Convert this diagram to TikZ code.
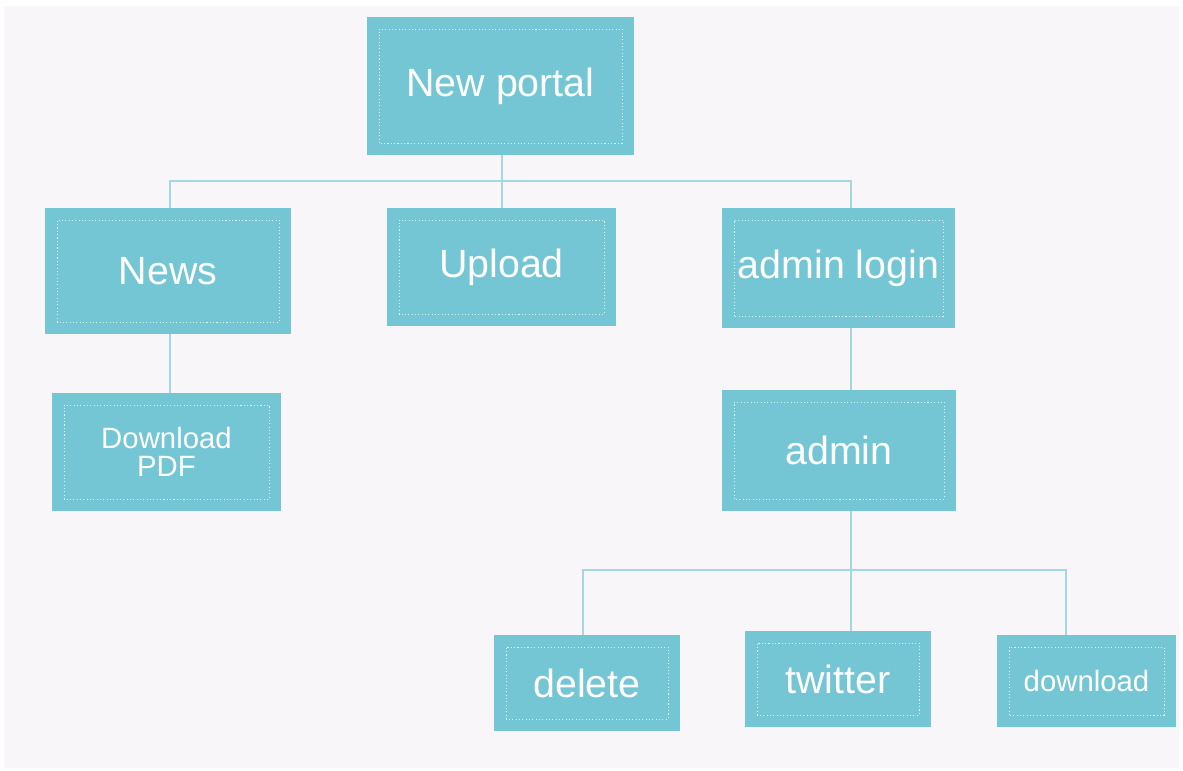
\documentclass[tikz,border=0pt]{standalone}
\usepackage{fontspec}
\setmainfont{Liberation Sans}
\usetikzlibrary{calc}
\definecolor{sky}{HTML}{74C6D4}
\definecolor{wire}{HTML}{A3D8E1}
\definecolor{paper}{HTML}{F8F6F8}

\begin{document}
\begin{tikzpicture}[font=\fontsize{22.4}{24}\selectfont]
\tikzset{
  tile/.style={fill=sky,text=white,inner sep=0pt,align=center,
    path picture={\draw[white!75!sky,line width=.55pt,dash pattern=on .6pt off 1.3pt]
      ($(path picture bounding box.south west)+(.24,.24)$) rectangle
      ($(path picture bounding box.north east)-(.24,.24)$);}},
  small/.style={font=\fontsize{16.7}{15.9}\selectfont},
  link/.style={draw=wire,line width=.7pt}
}
\fill[white] (0,0) rectangle (23.66,15.42);
\fill[paper] (.08,.06) rectangle (23.6,15.3);

% top level
\node[tile,minimum width=5.34cm,minimum height=2.76cm] (portal) at (10.01,13.70) {New portal};

% second level
\node[tile,minimum width=4.92cm,minimum height=2.52cm] (news) at (3.36,10.00) {News};
\node[tile,minimum width=4.58cm,minimum height=2.36cm] (upload) at (10.03,10.08) {Upload};
\node[tile,minimum width=4.66cm,minimum height=2.40cm] (login) at (16.77,10.06) {admin login};

% third level
\node[tile,small,minimum width=4.58cm,minimum height=2.36cm] (pdf) at (3.33,6.38) {Download\\PDF};
\node[tile,minimum width=4.68cm,minimum height=2.42cm] (admin) at (16.78,6.41) {admin};

% admin actions
\node[tile,minimum width=3.72cm,minimum height=1.92cm] (delete) at (11.74,1.76) {delete};
\node[tile,minimum width=3.72cm,minimum height=1.92cm] (twitter) at (16.76,1.84) {twitter};
\node[tile,small,minimum width=3.58cm,minimum height=1.84cm] (download) at (21.73,1.80) {download};

% bus lines and drop points
\coordinate (topbus) at (0,11.80);
\coordinate (lowbus) at (0,4.02);
\coordinate (leftdrop) at (3.40,0);
\coordinate (middrop) at (10.04,0);
\coordinate (rightdrop) at (17.02,0);
\coordinate (deldrop) at (11.66,0);
\coordinate (dldrop) at (21.32,0);

\draw[link] (portal.south -| middrop) -- (topbus -| middrop);
\draw[link] (news.north -| leftdrop) |- (topbus -| middrop) -| (login.north -| rightdrop);
\draw[link] (topbus -| middrop) -- (upload.north -| middrop);
\draw[link] (news.south -| leftdrop) -- (pdf.north -| leftdrop);
\draw[link] (login.south -| rightdrop) -- (admin.north -| rightdrop);
\draw[link] (admin.south -| rightdrop) -- (twitter.north -| rightdrop);
\draw[link] (delete.north -| deldrop) |- (lowbus -| rightdrop) -| (download.north -| dldrop);
\end{tikzpicture}
\end{document}
